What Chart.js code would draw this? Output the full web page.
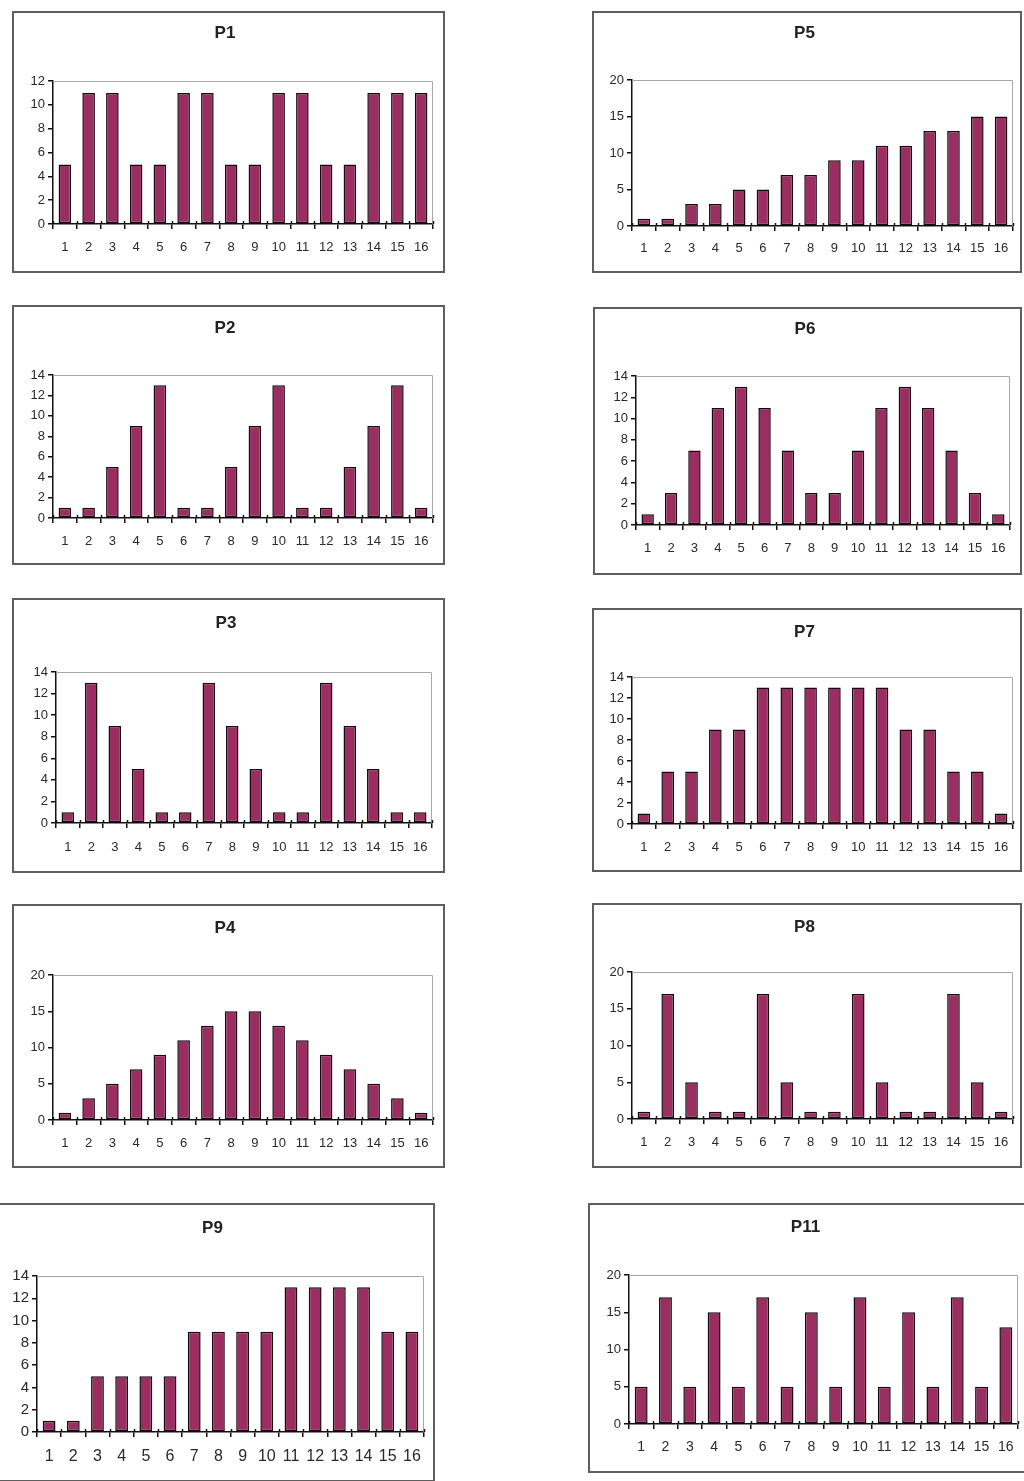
<!DOCTYPE html>
<html>
<head>
<meta charset="utf-8">
<script src="https://cdn.jsdelivr.net/npm/chart.js@4.4.1/dist/chart.umd.min.js"></script>
<style>
  html, body { margin: 0; padding: 0; background: #fff; }
  body { width: 1024px; height: 1481px; position: relative; overflow: hidden; }
  .panel { position: absolute; box-sizing: border-box; border: 2px solid #5e5e5e; background: #fff; }
  .panel canvas { display: block; }
</style>
</head>
<body>
<div id="wrap"></div>
<script>
// categories shared by every panel
const categories = ['1', '2', '3', '4', '5', '6', '7', '8', '9', '10', '11', '12', '13', '14', '15', '16'];

const titles = ['P1', 'P2', 'P3', 'P4', 'P5', 'P6', 'P7', 'P8', 'P9', 'P11'];

const p1 = [5, 11, 11, 5, 5, 11, 11, 5, 5, 11, 11, 5, 5, 11, 11, 11];
const p2 = [1, 1, 5, 9, 13, 1, 1, 5, 9, 13, 1, 1, 5, 9, 13, 1];
const p3 = [1, 13, 9, 5, 1, 1, 13, 9, 5, 1, 1, 13, 9, 5, 1, 1];
const p4 = [1, 3, 5, 7, 9, 11, 13, 15, 15, 13, 11, 9, 7, 5, 3, 1];
const p5 = [1, 1, 3, 3, 5, 5, 7, 7, 9, 9, 11, 11, 13, 13, 15, 15];
const p6 = [1, 3, 7, 11, 13, 11, 7, 3, 3, 7, 11, 13, 11, 7, 3, 1];
const p7 = [1, 5, 5, 9, 9, 13, 13, 13, 13, 13, 13, 9, 9, 5, 5, 1];
const p8 = [1, 17, 5, 1, 1, 17, 5, 1, 1, 17, 5, 1, 1, 17, 5, 1];
const p9 = [1, 1, 5, 5, 5, 5, 9, 9, 9, 9, 13, 13, 13, 13, 9, 9];
const p11 = [5, 17, 5, 15, 5, 17, 5, 15, 5, 17, 5, 15, 5, 17, 5, 13];

const series = [p1, p2, p3, p4, p5, p6, p7, p8, p9, p11];

// y axis range / tick step per panel
const yMax = [12, 14, 14, 20, 20, 14, 14, 20, 14, 20];
const yStep = [2, 2, 2, 5, 5, 2, 2, 5, 2, 5];

// where each panel sits on the page: box, plot area, title line, tick label line, font sizes
const layoutList = [
  { box: [12, 11, 433, 262], plot: [53, 81, 433, 224], titleY: 33, labelY: 247, tf: 17, xf: 13, yf: 13 },
  { box: [12, 305, 433, 260], plot: [53, 375, 433, 518], titleY: 328, labelY: 541, tf: 17, xf: 13, yf: 13 },
  { box: [12, 598, 433, 275], plot: [56, 672, 432, 823], titleY: 623, labelY: 847, tf: 17, xf: 13, yf: 13 },
  { box: [12, 904, 433, 264], plot: [53, 975, 433, 1120], titleY: 928, labelY: 1143, tf: 17, xf: 13, yf: 13 },
  { box: [592, 11, 430, 262], plot: [632, 80, 1013, 226], titleY: 33, labelY: 248, tf: 17, xf: 13, yf: 13 },
  { box: [593, 307, 429, 268], plot: [636, 376, 1010, 525], titleY: 329, labelY: 548, tf: 17, xf: 13, yf: 13 },
  { box: [592, 608, 430, 264], plot: [632, 677, 1013, 824], titleY: 632, labelY: 847, tf: 17, xf: 13, yf: 13 },
  { box: [592, 903, 430, 265], plot: [632, 972, 1013, 1119], titleY: 927, labelY: 1142, tf: 17, xf: 13, yf: 13 },
  { box: [-3, 1203, 438, 279], plot: [37, 1276, 424, 1432], titleY: 1228, labelY: 1457, tf: 17, xf: 16, yf: 15 },
  { box: [588, 1203, 446, 270], plot: [629, 1275, 1018, 1424], titleY: 1227, labelY: 1447, tf: 17, xf: 14, yf: 13 }
];

const BORDER = 2;
const Y_W = 36;
const X_H = 40;
const TICK = 5;
const FONT = "'Liberation Sans', Arial, sans-serif";

// gray frame on top/right of plot, and small tick stubs crossing the x axis
const plotFrame = {
  id: 'plotFrame',
  beforeDatasetsDraw(chart) {
    const a = chart.chartArea;
    const ctx = chart.ctx;
    ctx.save();
    ctx.strokeStyle = '#a8a8a8';
    ctx.lineWidth = 1;
    ctx.beginPath();
    ctx.moveTo(a.left, a.top + 0.5);
    ctx.lineTo(a.right - 0.5, a.top + 0.5);
    ctx.lineTo(a.right - 0.5, a.bottom);
    ctx.stroke();
    ctx.restore();
  },
  afterDraw(chart) {
    const x = chart.scales.x;
    const ctx = chart.ctx;
    const n = x.ticks.length;
    ctx.save();
    ctx.strokeStyle = '#111';
    ctx.lineWidth = 1.5;
    ctx.beginPath();
    for (let i = 0; i <= n; i++) {
      const px = Math.round(x.left + i * (x.width / n)) + 0.5;
      ctx.moveTo(px, x.top - 3);
      ctx.lineTo(px, x.top);
    }
    ctx.stroke();
    ctx.restore();
  }
};

const wrap = document.getElementById('wrap');

layoutList.forEach(function (L, k) {
  const [bx, by, bw, bh] = L.box;
  const div = document.createElement('div');
  div.className = 'panel';
  div.style.left = bx + 'px';
  div.style.top = by + 'px';
  div.style.width = bw + 'px';
  div.style.height = bh + 'px';
  const cw = bw - 2 * BORDER;
  const ch = bh - 2 * BORDER;
  const cx = bx + BORDER;
  const cy = by + BORDER;
  const canvas = document.createElement('canvas');
  canvas.width = cw;
  canvas.height = ch;
  canvas.style.width = cw + 'px';
  canvas.style.height = ch + 'px';
  div.appendChild(canvas);
  wrap.appendChild(div);

  const [pl, pt, pr, pb] = L.plot;
  const lh = L.tf * 1.2;
  const titleTop = L.titleY - cy - lh / 2;
  const titleBottom = pt - cy - titleTop - lh;
  const xPad = L.labelY - pb - TICK - L.xf * 0.6;

  new Chart(canvas, {
    type: 'bar',
    data: {
      labels: categories,
      datasets: [{
        data: series[k],
        backgroundColor: '#9a2e60',
        borderColor: '#160810',
        borderWidth: 1.5,
        borderSkipped: false,
        barPercentage: 0.53,
        categoryPercentage: 1
      }]
    },
    options: {
      responsive: false,
      animation: false,
      events: [],
      layout: {
        padding: {
          left: pl - cx - Y_W,
          right: cx + cw - pr,
          top: 0,
          bottom: Math.max(0, cy + ch - pb - X_H)
        }
      },
      plugins: {
        legend: { display: false },
        tooltip: { enabled: false },
        title: {
          display: true,
          text: titles[k],
          color: '#222',
          font: { family: FONT, size: L.tf, weight: 'bold' },
          padding: { top: titleTop, bottom: titleBottom }
        }
      },
      scales: {
        x: {
          afterFit: function (s) { s.height = X_H; },
          grid: {
            offset: true,
            drawOnChartArea: false,
            color: '#111',
            lineWidth: 1.5,
            tickLength: TICK
          },
          border: { display: true, color: '#111', width: 1.5 },
          ticks: {
            color: '#2a2a2a',
            font: { family: FONT, size: L.xf },
            padding: xPad,
            maxRotation: 0,
            autoSkip: false
          }
        },
        y: {
          min: 0,
          max: yMax[k],
          afterFit: function (s) { s.width = Y_W; },
          grid: {
            drawOnChartArea: false,
            color: '#111',
            lineWidth: 1.5,
            tickLength: TICK
          },
          border: { display: true, color: '#111', width: 1.5 },
          ticks: {
            stepSize: yStep[k],
            color: '#2a2a2a',
            font: { family: FONT, size: L.yf },
            padding: 3
          }
        }
      }
    },
    plugins: [plotFrame]
  });
});
</script>
</body>
</html>
